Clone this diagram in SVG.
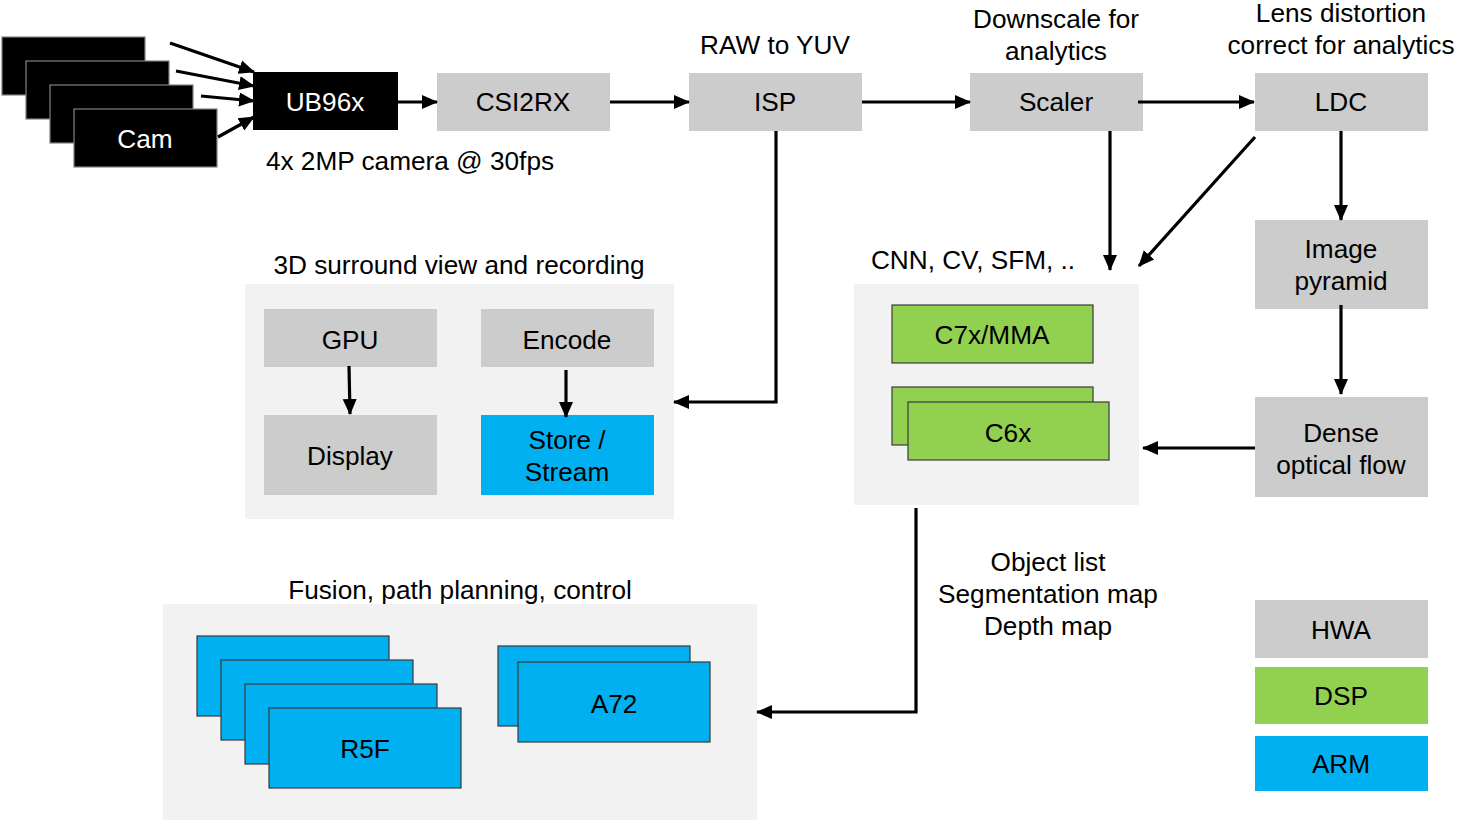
<svg xmlns="http://www.w3.org/2000/svg" width="1457" height="820" viewBox="0 0 1457 820">
<defs>
<style>
text{font-family:"Liberation Sans",Arial,sans-serif;font-size:26.2px;fill:#000;text-anchor:middle}
.w{fill:#fff}
.hwa{fill:#cccccc}
.dsp{fill:#92d050}
.arm{fill:#00b0f0}
.ds{stroke:#3a3a3a;stroke-width:1.2}
.cam{fill:#000;stroke:#808080;stroke-width:1.2}
.panel{fill:#f2f2f2}
.c{fill:none;stroke:#000;stroke-width:3.2;marker-end:url(#ah)}
</style>
<marker id="ah" markerUnits="userSpaceOnUse" markerWidth="16" markerHeight="16" viewBox="0 0 16 16" refX="15" refY="8" orient="auto">
<path d="M0,1 L16,8 L0,15 z" fill="#000"/>
</marker>
</defs>
<rect width="1457" height="820" fill="#fff"/>

<g id="panel-surround">
<rect class="panel" x="245" y="284" width="429" height="235"/>
<text x="459" y="274">3D surround view and recording</text>
</g>
<g id="panel-cnn">
<rect class="panel" x="854" y="284" width="285" height="221"/>
<text x="973" y="269">CNN, CV, SFM, ..</text>
</g>
<g id="panel-fusion">
<rect class="panel" x="163" y="604" width="594" height="216"/>
<text x="460" y="599">Fusion, path planning, control</text>
</g>

<g id="cams">
<rect class="cam" x="2" y="37" width="143" height="58"/>
<rect class="cam" x="26" y="61" width="143" height="58"/>
<rect class="cam" x="50" y="85" width="143" height="58"/>
<rect class="cam" x="74" y="109" width="143" height="58"/>
<text class="w" x="145" y="148">Cam</text>
</g>
<g id="ub96x">
<rect x="253" y="72" width="145" height="58" fill="#000"/>
<text class="w" x="325" y="111">UB96x</text>
<text x="410" y="170">4x 2MP camera @ 30fps</text>
</g>
<g id="csi2rx">
<rect class="hwa" x="437" y="73" width="173" height="58"/>
<text x="523" y="111">CSI2RX</text>
</g>
<g id="isp">
<rect class="hwa" x="689" y="73" width="173" height="58"/>
<text x="775" y="111">ISP</text>
<text x="775" y="54">RAW to YUV</text>
</g>
<g id="scaler">
<rect class="hwa" x="970" y="73" width="173" height="58"/>
<text x="1056" y="111">Scaler</text>
<text x="1056" y="28">Downscale for</text>
<text x="1056" y="60">analytics</text>
</g>
<g id="ldc">
<rect class="hwa" x="1255" y="73" width="173" height="58"/>
<text x="1341" y="111">LDC</text>
<text x="1341" y="22">Lens distortion</text>
<text x="1341" y="54">correct for analytics</text>
</g>
<g id="pyramid">
<rect class="hwa" x="1255" y="220" width="173" height="89"/>
<text x="1341" y="258">Image</text>
<text x="1341" y="290">pyramid</text>
</g>
<g id="dof">
<rect class="hwa" x="1255" y="397" width="173" height="100"/>
<text x="1341" y="442">Dense</text>
<text x="1341" y="474">optical flow</text>
</g>
<g id="c7x">
<rect class="dsp ds" x="892" y="305" width="201" height="58"/>
<text x="992" y="344">C7x/MMA</text>
</g>
<g id="c6x">
<rect class="dsp ds" x="892" y="387" width="201" height="58"/>
<rect class="dsp ds" x="908" y="402" width="201" height="58"/>
<text x="1008" y="442">C6x</text>
</g>
<g id="gpu">
<rect class="hwa" x="264" y="309" width="173" height="58"/>
<text x="350" y="349">GPU</text>
</g>
<g id="encode">
<rect class="hwa" x="481" y="309" width="173" height="58"/>
<text x="567" y="349">Encode</text>
</g>
<g id="display">
<rect class="hwa" x="264" y="415" width="173" height="80"/>
<text x="350" y="465">Display</text>
</g>
<g id="store">
<rect class="arm" x="481" y="415" width="173" height="80"/>
<text x="567" y="449">Store /</text>
<text x="567" y="481">Stream</text>
</g>
<g id="r5f">
<rect class="arm ds" x="197" y="636" width="192" height="80"/>
<rect class="arm ds" x="221" y="660" width="192" height="80"/>
<rect class="arm ds" x="245" y="684" width="192" height="80"/>
<rect class="arm ds" x="269" y="708" width="192" height="80"/>
<text x="365" y="758">R5F</text>
</g>
<g id="a72">
<rect class="arm ds" x="498" y="646" width="192" height="80"/>
<rect class="arm ds" x="518" y="662" width="192" height="80"/>
<text x="614" y="713">A72</text>
</g>
<g id="outputs-label">
<text x="1048" y="571">Object list</text>
<text x="1048" y="603">Segmentation map</text>
<text x="1048" y="635">Depth map</text>
</g>
<g id="legend">
<rect class="hwa" x="1255" y="600" width="173" height="58"/>
<text x="1341" y="639">HWA</text>
<rect class="dsp" x="1255" y="667" width="173" height="57"/>
<text x="1341" y="705">DSP</text>
<rect class="arm" x="1255" y="736" width="173" height="55"/>
<text x="1341" y="773">ARM</text>
</g>

<g id="connectors">
<line class="c" x1="170" y1="43" x2="254" y2="72"/>
<line class="c" x1="176" y1="71" x2="254" y2="86"/>
<line class="c" x1="201" y1="96" x2="254" y2="101"/>
<line class="c" x1="218" y1="137" x2="254" y2="117"/>
<line class="c" x1="398" y1="102" x2="437" y2="102"/>
<line class="c" x1="610" y1="102" x2="689" y2="102"/>
<line class="c" x1="862" y1="102" x2="970" y2="102"/>
<line class="c" x1="1138" y1="102" x2="1254" y2="102"/>
<polyline class="c" points="776,131 776,402 674,402"/>
<line class="c" x1="1110" y1="131" x2="1110" y2="270"/>
<line class="c" x1="1255" y1="137" x2="1139" y2="266"/>
<line class="c" x1="1341" y1="131" x2="1341" y2="220"/>
<line class="c" x1="1341" y1="305" x2="1341" y2="394"/>
<line class="c" x1="1255" y1="448" x2="1143" y2="448"/>
<line class="c" x1="349" y1="366" x2="350" y2="414"/>
<line class="c" x1="566" y1="370" x2="566" y2="417"/>
<polyline class="c" points="916,508 916,712 757,712"/>
</g>
</svg>
